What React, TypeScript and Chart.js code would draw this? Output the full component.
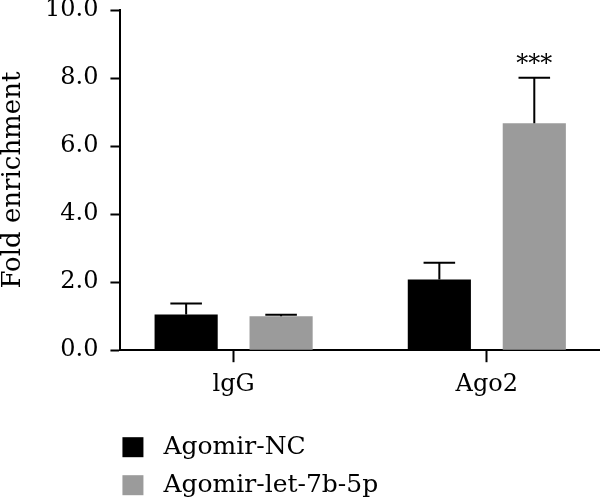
import React, { useEffect, useRef } from 'react';
import { Chart, registerables } from 'chart.js';

Chart.register(...registerables);

// ---- data ----
const categories = ['lgG', 'Ago2'];
const seriesNames = ['Agomir-NC', 'Agomir-let-7b-5p'];
const agomirNC = [1.05, 2.08];
const agomirNCErr = [0.32, 0.49];
const agomirLet = [1.0, 6.67];
const agomirLetErr = [0.04, 1.34];
const agomirLetSig = ['', '***'];
const yTickValues = [0, 2, 4, 6, 8, 10];
const yAxisTitle = 'Fold enrichment';

const colors = ['#000000', '#9b9b9b'];
const FONT = '"DejaVu Serif", serif';

const errorBarPlugin = {
  id: 'errorBars',
  afterDatasetsDraw(chart: any) {
    const ctx = chart.ctx;
    const yScale = chart.scales.y;
    chart.data.datasets.forEach((ds: any, di: number) => {
      const meta = chart.getDatasetMeta(di);
      meta.data.forEach((el: any, i: number) => {
        const v = ds.data[i].y;
        const top = yScale.getPixelForValue(v + ds.errUp[i]);
        const half = el.width / 4;
        ctx.save();
        ctx.strokeStyle = '#000';
        ctx.lineWidth = 2;
        ctx.beginPath();
        ctx.moveTo(el.x, el.y);
        ctx.lineTo(el.x, top);
        ctx.moveTo(el.x - half, top);
        ctx.lineTo(el.x + half, top);
        ctx.stroke();
        const sig = ds.sig ? ds.sig[i] : '';
        if (sig) {
          ctx.fillStyle = '#000';
          ctx.font = '24px ' + FONT;
          ctx.textAlign = 'center';
          ctx.textBaseline = 'alphabetic';
          ctx.fillText(sig, el.x, top - 7);
        }
        ctx.restore();
      });
    });
  },
};

const legendPlugin = {
  id: 'stackedLegend',
  afterDraw(chart: any) {
    const { ctx, chartArea } = chart;
    chart.data.datasets.forEach((ds: any, i: number) => {
      const cy = chartArea.bottom + 97 + i * 38;
      const x0 = chartArea.left + 2;
      ctx.save();
      ctx.fillStyle = ds.backgroundColor;
      ctx.fillRect(x0, cy - 10, 21, 20);
      ctx.fillStyle = '#000';
      ctx.font = '25px ' + FONT;
      ctx.textBaseline = 'middle';
      ctx.textAlign = 'left';
      ctx.fillText(ds.label, x0 + 41, cy);
      ctx.restore();
    });
  },
};

export default function App() {
  const ref = useRef<HTMLCanvasElement | null>(null);

  useEffect(() => {
    document.body.style.margin = '0';
    const canvas = ref.current;
    if (!canvas) return;
    const chart = new Chart(canvas, {
      type: 'bar',
      data: {
        datasets: [
          {
            label: seriesNames[0],
            data: agomirNC.map((v, i) => ({ x: i + 1, y: v })),
            backgroundColor: colors[0],
            borderWidth: 0,
            errUp: agomirNCErr,
          } as any,
          {
            label: seriesNames[1],
            data: agomirLet.map((v, i) => ({ x: i + 1, y: v })),
            backgroundColor: colors[1],
            borderWidth: 0,
            errUp: agomirLetErr,
            sig: agomirLetSig,
          } as any,
        ],
      },
      options: {
        responsive: false,
        animation: false,
        devicePixelRatio: 1,
        categoryPercentage: 0.75,
        barPercentage: 0.665,
        layout: { padding: { left: 0, right: 0, top: 0, bottom: 97 } },
        plugins: {
          legend: { display: false },
          tooltip: { enabled: false },
        },
        scales: {
          x: {
            type: 'linear',
            offset: false,
            min: 0.553,
            max: 2.447,
            afterBuildTicks: (scale: any) => {
              scale.ticks = categories.map((_, i) => ({ value: i + 1 }));
            },
            ticks: {
              autoSkip: false,
              maxRotation: 0,
              padding: 8,
              color: '#000',
              font: { family: FONT, size: 24 },
              callback: (value: any) => categories[Math.round(value) - 1] ?? '',
            },
            grid: {
              display: true,
              offset: false,
              drawOnChartArea: false,
              drawTicks: true,
              tickLength: 12,
              tickWidth: 2,
              color: '#000',
              tickColor: '#000',
            },
            border: { display: true, color: '#000', width: 2 },
          },
          y: {
            type: 'linear',
            min: 0,
            max: 10,
            afterBuildTicks: (scale: any) => {
              scale.ticks = yTickValues.map((v) => ({ value: v }));
            },
            afterFit: (scale: any) => {
              scale.paddingTop = 10;
              scale.paddingBottom = 10;
            },
            ticks: {
              padding: 12,
              color: '#000',
              font: { family: FONT, size: 24, lineHeight: 0.8 },
              callback: (value: any) => Number(value).toFixed(1),
            },
            grid: {
              display: true,
              drawOnChartArea: false,
              drawTicks: true,
              tickLength: 10,
              tickWidth: 2,
              color: '#000',
              tickColor: '#000',
            },
            border: { display: true, color: '#000', width: 2 },
            title: {
              display: true,
              text: yAxisTitle,
              color: '#000',
              font: { family: FONT, size: 26, lineHeight: 1 },
              padding: { top: 0, bottom: 7 },
            },
          },
        },
      } as any,
      plugins: [errorBarPlugin, legendPlugin],
    });
    return () => chart.destroy();
  }, []);

  return (
    <div style={{ width: 600, height: 504, background: '#fff' }}>
      <canvas ref={ref} width={600} height={504} style={{ display: 'block' }} />
    </div>
  );
}
